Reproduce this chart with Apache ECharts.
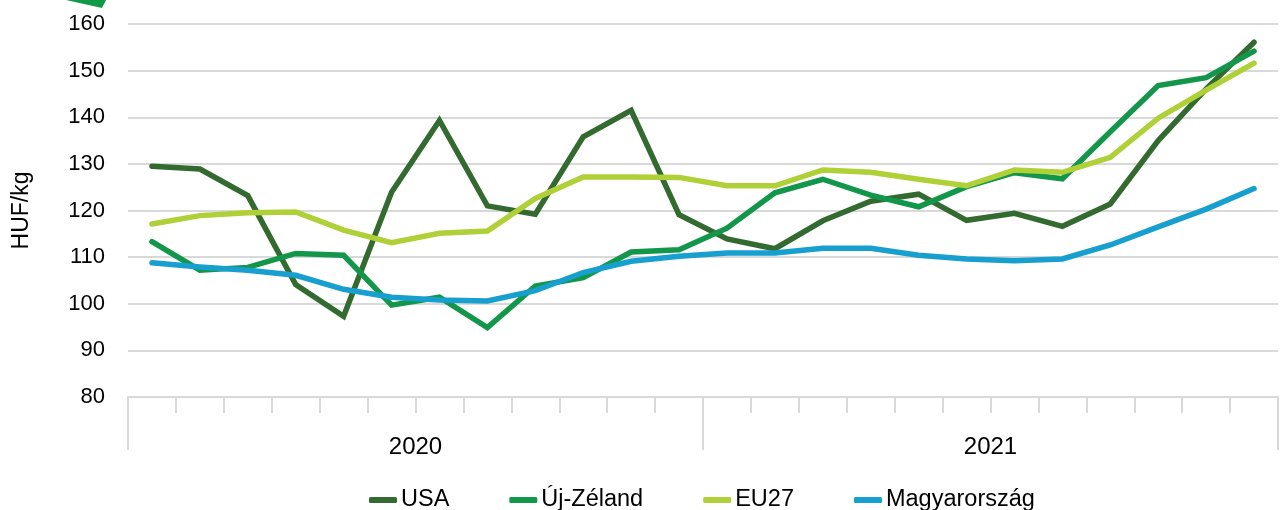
<!DOCTYPE html>
<html>
<head>
<meta charset="utf-8">
<script src="https://cdn.jsdelivr.net/npm/echarts@6/dist/echarts.min.js"></script>
<style>
html,body{margin:0;padding:0;background:#fff;}
#chart{width:1280px;height:510px;}
</style>
</head>
<body>
<div id="chart"></div>
<script>
var months = ['1','2','3','4','5','6','7','8','9','10','11','12','1','2','3','4','5','6','7','8','9','10','11','12'];
var years = ['2020', '2021'];
var seriesNames = ['USA', 'Új-Zéland', 'EU27', 'Magyarország'];
var usa = [129.5,128.9,123.2,104.1,97.3,123.9,139.3,121.0,119.2,135.8,141.5,119.1,113.9,111.8,117.8,122.0,123.5,117.9,119.4,116.6,121.4,135.0,146.1,156.1];
var nz  = [113.3,107.2,107.8,110.8,110.4,99.7,101.4,94.9,103.8,105.6,111.1,111.6,116.2,123.8,126.7,123.3,120.8,125.1,128.1,126.8,136.9,146.8,148.5,154.2];
var eu  = [117.1,118.9,119.5,119.7,115.8,113.1,115.1,115.6,122.6,127.2,127.2,127.1,125.3,125.3,128.7,128.2,126.7,125.3,128.7,128.2,131.4,139.8,145.8,151.6];
var hu  = [108.8,107.9,107.2,106.1,103.1,101.4,100.8,100.6,102.8,106.7,109.1,110.2,110.9,110.9,111.9,111.9,110.4,109.6,109.2,109.6,112.6,116.5,120.3,124.7];
var yTicks = {min: 80, max: 160, interval: 10};

var colors = ['#336a2f', '#12974a', '#afd137', '#179fcf'];
var font = "'Liberation Sans', Arial, sans-serif";
var gridColor = '#d9d9d9';

var chart = echarts.init(document.getElementById('chart'), null, {renderer: 'canvas'});
var dataArr = [usa, nz, eu, hu];
var series = seriesNames.map(function (n, i) {
  return {
    name: n,
    type: 'line',
    xAxisIndex: 0,
    data: dataArr[i],
    showSymbol: false,
    symbol: 'none',
    lineStyle: {width: 5.5, color: colors[i], cap: 'round', join: 'miter'},
    itemStyle: {color: colors[i]},
    animation: false
  };
});

chart.setOption({
  animation: false,
  color: colors,
  textStyle: {fontFamily: font},
  grid: {left: 128, right: 2, top: 24, bottom: 113, containLabel: false},
  graphic: [{
    type: 'polygon',
    shape: {points: [[66, 0], [106, 0], [102, 8]]},
    style: {fill: '#0f9a48'}
  }],
  legend: {
    left: 364,
    top: 483,
    itemWidth: 28,
    itemHeight: 6,
    itemGap: 60,
    icon: 'roundRect',
    textStyle: {fontSize: 23.5, color: '#000', fontFamily: font, padding: [0, 0, 0, -1]},
    data: seriesNames
  },
  xAxis: [{
    type: 'category',
    data: months,
    position: 'bottom',
    boundaryGap: true,
    axisLine: {show: true, lineStyle: {color: gridColor, width: 2}},
    axisTick: {show: true, interval: 0, length: 16, lineStyle: {color: gridColor, width: 2}},
    axisLabel: {show: false},
    splitLine: {show: false}
  }, {
    type: 'category',
    data: years,
    position: 'bottom',
    offset: 0,
    boundaryGap: true,
    axisLine: {show: false},
    axisTick: {show: true, interval: 0, length: 53, lineStyle: {color: gridColor, width: 2}},
    axisLabel: {show: true, margin: 38, fontSize: 24, color: '#000', fontFamily: font},
    splitLine: {show: false}
  }],
  yAxis: {
    type: 'value',
    min: yTicks.min,
    max: yTicks.max,
    interval: yTicks.interval,
    name: 'HUF/kg',
    nameLocation: 'middle',
    nameRotate: 90,
    nameGap: 95,
    nameTextStyle: {fontSize: 23, color: '#000', fontFamily: font},
    axisLine: {show: false},
    axisTick: {show: false},
    axisLabel: {fontSize: 22, color: '#000', margin: 23, fontFamily: font},
    splitLine: {lineStyle: {color: gridColor, width: 2}}
  },
  series: series
});
</script>
</body>
</html>
